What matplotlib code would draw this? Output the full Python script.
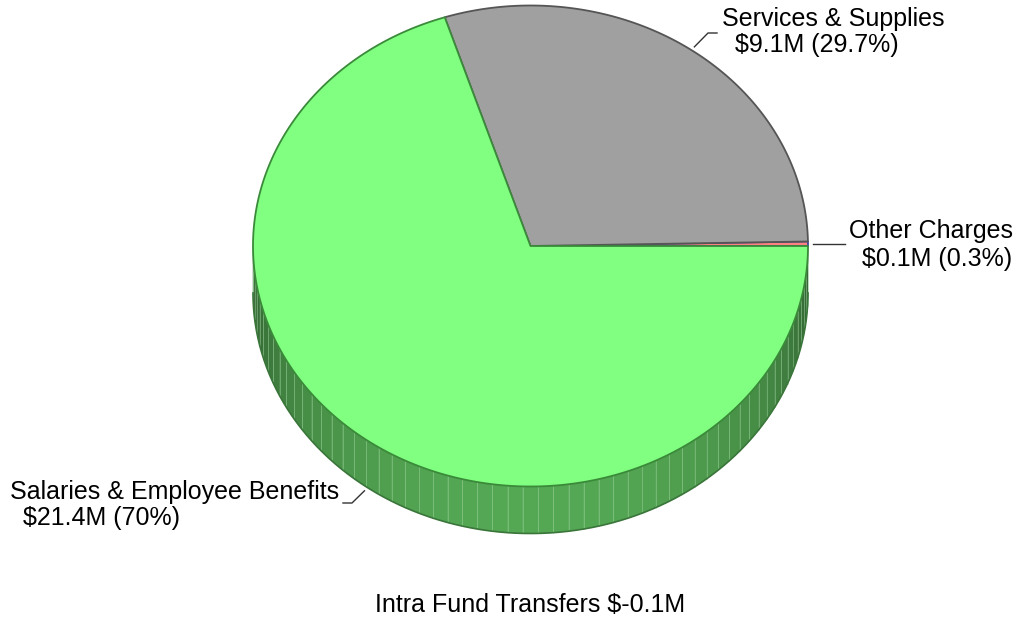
import numpy as np
import matplotlib.pyplot as plt
from matplotlib.patches import Polygon

plt.rcParams['font.family'] = ['Liberation Sans', 'DejaVu Sans']

# data
categories = ['Other Charges', 'Services & Supplies', 'Salaries & Employee Benefits']
amounts = [0.1, 9.1, 21.4]          # $M
percents = [0.3, 29.7, 70.0]
amount_labels = ['$0.1M (0.3%)', '$9.1M (29.7%)', '$21.4M (70%)']
transfer_name = 'Intra Fund Transfers'
transfer_value = -0.1

top_colors = ['#ff8080', '#a0a0a0', '#80ff80']
edge_colors = ['#4040a0', '#555555', '#3a8a3a']
side_base = [(0.85, 0.35, 0.35), (0.45, 0.45, 0.45), (0.33, 0.66, 0.33)]

# pie geometry in pixels
cx, cy = 530.5, 246.0
rx, ry = 277.5, 240.5
depth = 47

fig = plt.figure(figsize=(10.19, 6.19), dpi=100)
ax = fig.add_axes([0, 0, 1, 1])
ax.set_xlim(0, 1019)
ax.set_ylim(619, 0)
ax.axis('off')

def pt(t, dy=0):
    return cx + rx * np.cos(t), cy - ry * np.sin(t) + dy

bounds = np.deg2rad(np.concatenate([[0], np.cumsum(percents) / 100 * 360]))

# side walls (front half only)
step = np.deg2rad(3.2)
for i in range(len(percents)):
    a0 = max(bounds[i], np.pi)
    a1 = min(bounds[i + 1], 2 * np.pi)
    if a1 <= a0:
        continue
    n = max(1, int(np.ceil((a1 - a0) / step)))
    ts = np.linspace(a0, a1, n + 1)
    for k in range(n):
        t0, t1 = ts[k], ts[k + 1]
        tm = 0.5 * (t0 + t1)
        shade = 0.52 + 0.48 * abs(np.sin(tm)) ** 0.8
        col = tuple(min(1, c * shade) for c in side_base[i])
        x0, y0 = pt(t0)
        x1, y1 = pt(t1)
        poly = [(x0, y0), (x1, y1), (x1, y1 + depth), (x0, y0 + depth)]
        ax.add_patch(Polygon(poly, closed=True, facecolor=col, edgecolor=col, lw=0.3, zorder=1))
        ax.plot([x0, x0], [y0, y0 + depth], color=(0.62, 0.84, 0.62), lw=0.6, alpha=0.55, zorder=1.5)
    tb = np.linspace(a0, a1, 200)
    xb, yb = pt(tb, depth)
    ax.plot(xb, yb, color='#3a753a', lw=1.2, zorder=2)

# top faces
for i in range(len(percents)):
    ts = np.linspace(bounds[i], bounds[i + 1], max(3, int(percents[i] * 6)))
    xs, ys = pt(ts)
    poly = [(cx, cy)] + list(zip(xs, ys))
    ax.add_patch(Polygon(poly, closed=True, facecolor=top_colors[i], edgecolor=edge_colors[i],
                         lw=1.3, joinstyle='round', zorder=3))

# labels with leader lines
mid = 0.5 * (bounds[:-1] + bounds[1:])
label_layout = {
    # (leader elbow points, text x line1, baseline1, text x line2, baseline2)
    'Other Charges': ([(813, None), (845, None)], 849, 238, 862, 266),
    'Services & Supplies': ([(708, 33), (717, 33)], 722, 26, 735, 52),
    'Salaries & Employee Benefits': ([(352, 503), (343, 503)], 10, 499, 23, 525),
}
for i, name in enumerate(categories):
    elbow, x1, b1, x2, b2 = label_layout[name]
    sx, sy = pt(mid[i], depth if np.sin(mid[i]) < 0 else 0)
    sx += 5 * np.cos(mid[i])
    sy -= 4 * np.sin(mid[i])
    pts = [(sx, sy)] + [(ex, ey if ey is not None else sy) for ex, ey in elbow]
    ax.plot([p[0] for p in pts], [p[1] for p in pts], color='#333333', lw=1.0, zorder=4)
    ax.text(x1, b1, name, fontsize=18, va='baseline', ha='left', color='black')
    ax.text(x2, b2, amount_labels[i], fontsize=18, va='baseline', ha='left', color='black')

ax.text(530, 612, f'{transfer_name} ${transfer_value}M', fontsize=18, va='baseline', ha='center')

fig.savefig('out.png', dpi=100)
